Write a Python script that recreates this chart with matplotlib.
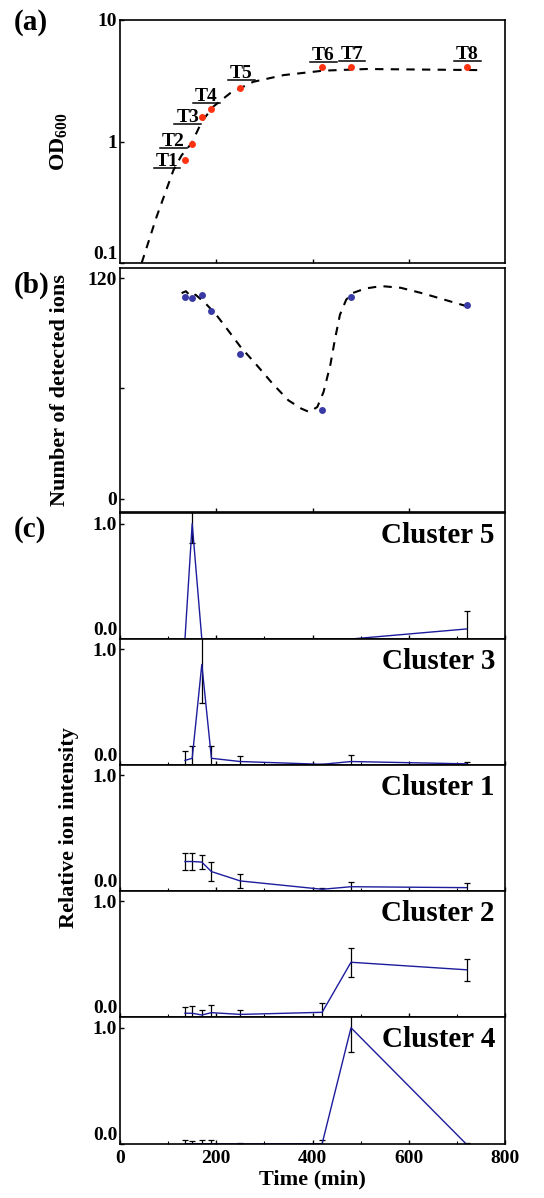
import matplotlib
matplotlib.use("Agg")
import matplotlib.pyplot as plt
from matplotlib.lines import Line2D
from matplotlib.ticker import MultipleLocator, NullLocator, FixedLocator

plt.rcParams['font.family'] = ['Liberation Serif', 'DejaVu Serif']
plt.rcParams['font.weight'] = 'bold'
plt.rcParams['axes.labelweight'] = 'bold'
plt.rcParams['mathtext.fontset'] = 'custom'
plt.rcParams['mathtext.rm'] = 'Liberation Serif:bold'
plt.rcParams['mathtext.bf'] = 'Liberation Serif:bold'

# sampling times (min) and labels
time = [135, 150, 170, 190, 250, 420, 480, 720]
tags = ['T1', 'T2', 'T3', 'T4', 'T5', 'T6', 'T7', 'T8']

# (a) growth curve
od600 = [0.70, 0.95, 1.6, 1.85, 2.74, 4.13, 4.08, 4.13]
od_fit_t = [45, 76, 111, 128, 149, 170, 194, 229, 277, 340, 423, 513, 745]
od_fit = [0.1, 0.24, 0.58, 0.77, 0.97, 1.46, 1.94, 2.5, 3.1, 3.52, 3.83, 3.95, 3.87]

# (b) number of detected ions
ions = [109.7, 109.0, 110.9, 102.2, 78.9, 48.2, 109.8, 105.3]
ion_fit_t = [128, 137, 147, 157, 177, 200, 224, 250, 284, 317, 350, 377, 393,
             410, 423, 437, 447, 457, 470, 483, 510, 543, 583, 630, 677, 724]
ion_fit = [111.8, 112.8, 110.0, 110.9, 106.4, 100.0, 91.8, 82.7, 72.7, 62.6, 53.5,
           49.0, 47.2, 49.9, 58.1, 72.7, 87.2, 100.0, 108.2, 111.8, 114.3, 115.6,
           114.7, 111.6, 108.0, 104.4]

# (c) relative ion intensity per cluster (mean, error)
cluster_names = ['Cluster 5', 'Cluster 3', 'Cluster 1', 'Cluster 2', 'Cluster 4']
cluster_mean = [
    [0.0, 1.0, 0.0, 0.0, 0.0, 0.0, 0.0, 0.087],
    [0.04, 0.058, 0.87, 0.058, 0.03, 0.006, 0.03, 0.01],
    [0.255, 0.255, 0.25, 0.168, 0.087, 0.015, 0.037, 0.029],
    [0.035, 0.035, 0.02, 0.04, 0.025, 0.043, 0.475, 0.41],
    [0.005, 0.005, 0.005, 0.005, 0.003, 0.005, 1.0, 0.0],
]
cluster_err = [
    [0.0, 0.17, 0.0, 0.0, 0.0, 0.0, 0.0, 0.16],
    [0.08, 0.11, 0.33, 0.11, 0.05, 0.0, 0.06, 0.02],
    [0.076, 0.07, 0.058, 0.08, 0.064, 0.015, 0.045, 0.04],
    [0.055, 0.06, 0.045, 0.07, 0.04, 0.08, 0.124, 0.094],
    [0.03, 0.02, 0.03, 0.03, 0.01, 0.03, 0.21, 0.01],
]

# label offsets (pixels) of each T tag underline relative to its point
tag_offsets = [(-18, -8), (-19, -4), (-14, -7), (-5, 6), (1, 8), (1, 5), (1, 6), (1, 6)]

W, H = 544, 1198
fig = plt.figure(figsize=(W / 100, H / 100), dpi=100)

left, right = 120 / W, 505 / W


def box(top_px, bot_px):
    return [left, 1 - bot_px / H, right - left, (bot_px - top_px) / H]


def style(ax):
    for s in ax.spines.values():
        s.set_linewidth(1.2)
    ax.tick_params(direction='in', length=3, width=1, labelsize=14, pad=2)
    ax.tick_params(which='minor', direction='in', length=2, width=0.8)
    ax.set_xlim(0, 800)


# (a)
ax_a = fig.add_axes(box(20, 263))
style(ax_a)
ax_a.set_yscale('log')
ax_a.plot(od_fit_t, od_fit, color='black', lw=1.5, ls=(0, (4, 3.5)))
ax_a.plot(time, od600, 'o', color='#ff3311', ms=5, mec='none')
ax_a.set_ylim(0.1, 10)
ax_a.yaxis.set_major_locator(FixedLocator([0.1, 1, 10]))
ax_a.yaxis.set_minor_locator(NullLocator())
ax_a.set_yticklabels(['0.1', '1', '10'])
ax_a.get_yticklabels()[0].set_va('bottom')
ax_a.set_xticks([200, 400, 600])
ax_a.set_xticklabels([])
ax_a.set_ylabel(r'OD$_{\mathregular{600}}$', fontsize=16)
ax_a.yaxis.set_label_coords(-0.13, 0.5)

tag_texts = []
for t, v, name, (dx, dy) in zip(time, od600, tags, tag_offsets):
    txt = ax_a.annotate(name, (t, v), xytext=(dx, dy + 2), textcoords='offset pixels',
                        ha='center', va='baseline', fontsize=14)
    tag_texts.append((txt, t, v, dy))

# (b)
ax_b = fig.add_axes(box(267.7, 511.7))
style(ax_b)
ax_b.plot(ion_fit_t, ion_fit, color='black', lw=1.5, ls=(0, (4, 3.5)))
ax_b.plot(time, ions, 'o', color='#3a3aa6', ms=5, mec='none')
ax_b.set_ylim(-7, 125.6)
ax_b.set_yticks([0, 60, 120])
ax_b.set_yticklabels(['0', '', '120'])
ax_b.set_xticks([200, 400, 600])
ax_b.set_xticklabels([])
ax_b.set_ylabel('Number of detected ions', fontsize=16)
ax_b.yaxis.set_label_coords(-0.13, 0.5)

# (c)
tops = [513.3, 639, 765, 891, 1017.3]
bots = [639, 765, 891, 1017.3, 1144.3]
for i, name in enumerate(cluster_names):
    ax = fig.add_axes(box(tops[i], bots[i]))
    style(ax)
    ax.errorbar(time, cluster_mean[i], yerr=cluster_err[i], color='#1c1c9c', lw=1,
                ecolor='black', elinewidth=0.9, capsize=2, capthick=0.9)
    ax.set_ylim(0, 1.09)
    ax.set_yticks([0, 1])
    ax.set_yticklabels(['0.0', '1.0'])
    ax.get_yticklabels()[0].set_va('bottom')
    ax.xaxis.set_major_locator(MultipleLocator(200))
    ax.xaxis.set_minor_locator(MultipleLocator(100))
    ax.text(0.974, 0.765, name, transform=ax.transAxes, ha='right', va='baseline',
            fontsize=21)
    if i < len(cluster_names) - 1:
        ax.set_xticklabels([])
    else:
        ax.tick_params(axis='x', pad=4)
        ax.set_xlabel('Time (min)', fontsize=16, labelpad=2)

fig.text(69 / W, 1 - 827.5 / H, 'Relative ion intensity', rotation=90, fontsize=16,
         ha='center', va='center')

fig.text(14 / W, 1 - 30 / H, '(a)', fontsize=21, ha='left', va='baseline')
fig.text(14 / W, 1 - 292.7 / H, '(b)', fontsize=21, ha='left', va='baseline')
fig.text(14 / W, 1 - 536.7 / H, '(c)', fontsize=21, ha='left', va='baseline')

# underline the T tags
fig.canvas.draw()
renderer = fig.canvas.get_renderer()
for txt, t, v, dy in tag_texts:
    bb = txt.get_window_extent(renderer)
    y = ax_a.transData.transform((t, v))[1] + dy
    fig.add_artist(Line2D([bb.x0 - 2, bb.x1 + 2], [y, y], color='black', lw=1.1,
                          transform=None))

fig.savefig('out.png', dpi=100)
